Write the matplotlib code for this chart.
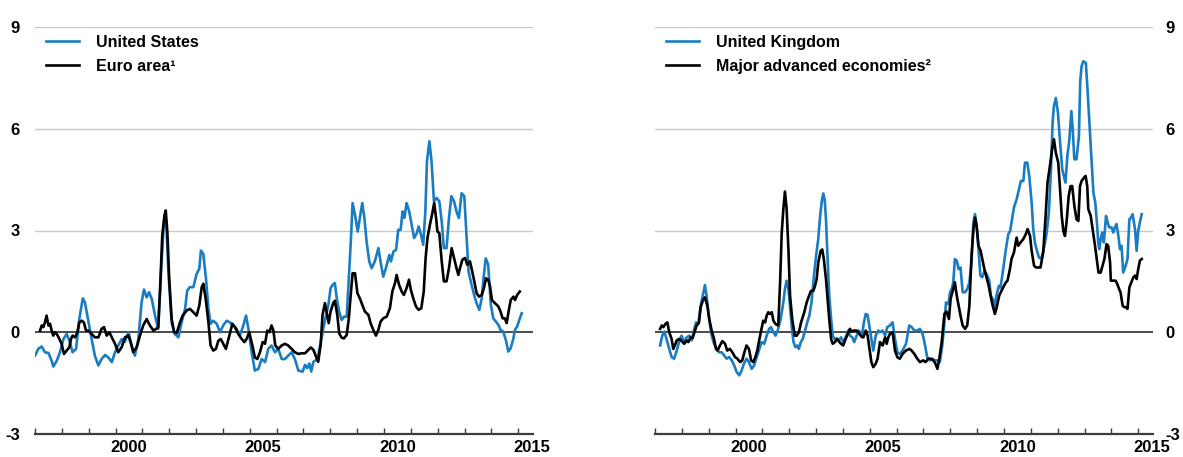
import matplotlib
matplotlib.use("Agg")
import matplotlib.pyplot as plt
import numpy as np

plt.rcParams['font.family'] = ['Liberation Sans', 'DejaVu Sans']

# ---- data (decimal year, value) ----
us_t = [1997.00, 1997.12, 1997.25, 1997.37, 1997.50, 1997.62, 1997.68, 1997.81, 1997.93, 1998.06,
        1998.18, 1998.30, 1998.40, 1998.53, 1998.65, 1998.78, 1998.86, 1998.95, 1999.11, 1999.23,
        1999.36, 1999.48, 1999.61, 1999.73, 1999.86, 1999.98, 2000.10, 2000.23, 2000.35, 2000.48,
        2000.60, 2000.72, 2000.85, 2000.97, 2001.06, 2001.16, 2001.25, 2001.35, 2001.47, 2001.59,
        2001.68, 2001.78, 2001.84, 2001.90, 2001.97, 2002.09, 2002.21, 2002.34, 2002.46, 2002.59,
        2002.67, 2002.77, 2002.90, 2003.02, 2003.12, 2003.18, 2003.27, 2003.37, 2003.46, 2003.54,
        2003.64, 2003.77, 2003.89, 2004.01, 2004.14, 2004.26, 2004.39, 2004.51, 2004.63, 2004.76,
        2004.86, 2004.95, 2005.07, 2005.19, 2005.32, 2005.44, 2005.57, 2005.69, 2005.81, 2005.94,
        2006.06, 2006.19, 2006.31, 2006.43, 2006.56, 2006.68, 2006.81, 2006.97, 2007.06, 2007.14,
        2007.22, 2007.29, 2007.37, 2007.47, 2007.55, 2007.64, 2007.74, 2007.83, 2007.93, 2008.01,
        2008.09, 2008.17, 2008.24, 2008.33, 2008.42, 2008.51, 2008.61, 2008.69, 2008.77, 2008.83,
        2008.92, 2009.02, 2009.10, 2009.19, 2009.27, 2009.35, 2009.45, 2009.54, 2009.66, 2009.79,
        2009.87, 2009.97, 2010.07, 2010.20, 2010.26, 2010.35, 2010.45, 2010.53, 2010.62, 2010.69,
        2010.76, 2010.84, 2010.94, 2011.03, 2011.12, 2011.22, 2011.29, 2011.38, 2011.46, 2011.54,
        2011.60, 2011.69, 2011.77, 2011.86, 2011.96, 2012.06, 2012.15, 2012.23, 2012.33, 2012.42,
        2012.51, 2012.61, 2012.70, 2012.79, 2012.89, 2012.99, 2013.08, 2013.15, 2013.26, 2013.39,
        2013.47, 2013.55, 2013.64, 2013.72, 2013.79, 2013.88, 2013.98, 2014.07, 2014.17, 2014.26,
        2014.34, 2014.44, 2014.54, 2014.63, 2014.72, 2014.82, 2014.88, 2014.96, 2015.06, 2015.13]
us_v = [-0.69, -0.49, -0.42, -0.59, -0.61, -0.84, -1.01, -0.84, -0.59, -0.20,
        -0.05, -0.29, -0.59, -0.49, 0.39, 1.00, 0.88, 0.49, -0.20, -0.69,
        -0.98, -0.79, -0.67, -0.74, -0.88, -0.59, -0.39, -0.20, -0.28, 0.00,
        -0.39, -0.69, -0.20, 0.88, 1.26, 1.03, 1.18, 0.98, 0.49, 0.10,
        1.57, 2.95, 3.44, 3.05, 1.77, 0.29, -0.05, -0.15, 0.29, 0.69,
        1.23, 1.33, 1.33, 1.72, 1.87, 2.41, 2.31, 1.57, 0.69, 0.25,
        0.34, 0.25, 0.00, 0.20, 0.34, 0.29, 0.20, 0.10, -0.10, 0.20,
        0.49, 0.10, -0.59, -1.13, -1.08, -0.79, -0.88, -0.49, -0.39, -0.59,
        -0.49, -0.79, -0.79, -0.69, -0.59, -0.79, -1.13, -1.16, -0.96, -1.06,
        -0.92, -1.16, -0.87, -0.82, -0.67, -0.32, 0.12, 0.46, 0.81, 1.30,
        1.40, 1.45, 1.00, 0.61, 0.36, 0.46, 0.46, 1.59, 2.78, 3.81,
        3.46, 2.97, 3.37, 3.81, 3.37, 2.68, 2.09, 1.89, 2.09, 2.48,
        2.09, 1.64, 1.89, 2.28, 2.09, 2.38, 2.43, 3.02, 3.02, 3.56,
        3.37, 3.81, 3.56, 3.17, 2.78, 2.92, 3.12, 2.87, 2.58, 3.56,
        5.04, 5.63, 5.04, 3.86, 3.96, 3.86, 3.27, 2.48, 2.48, 3.37,
        4.01, 3.86, 3.56, 3.37, 4.10, 4.01, 2.78, 1.79, 1.40, 1.00,
        0.81, 0.66, 1.00, 1.69, 2.18, 1.99, 0.81, 0.41, 0.31, 0.22,
        0.07, 0.02, -0.23, -0.57, -0.47, -0.18, 0.07, 0.17, 0.41, 0.56]

ea_t = [1997.19, 1997.25, 1997.31, 1997.37, 1997.43, 1997.50, 1997.56, 1997.62, 1997.68, 1997.74,
        1997.81, 1997.91, 1997.99, 1998.08, 1998.18, 1998.28, 1998.34, 1998.40, 1998.49, 1998.58,
        1998.65, 1998.74, 1998.82, 1998.90, 1998.99, 1999.11, 1999.23, 1999.36, 1999.48, 1999.57,
        1999.67, 1999.77, 1999.86, 1999.98, 2000.10, 2000.23, 2000.35, 2000.48, 2000.56, 2000.66,
        2000.79, 2000.91, 2001.03, 2001.16, 2001.28, 2001.41, 2001.51, 2001.59, 2001.66, 2001.74,
        2001.82, 2001.87, 2001.93, 2002.00, 2002.09, 2002.18, 2002.28, 2002.40, 2002.50, 2002.65,
        2002.77, 2002.90, 2003.02, 2003.12, 2003.21, 2003.27, 2003.36, 2003.46, 2003.54, 2003.64,
        2003.74, 2003.83, 2003.92, 2004.01, 2004.11, 2004.24, 2004.35, 2004.45, 2004.57, 2004.70,
        2004.80, 2004.88, 2004.98, 2005.11, 2005.19, 2005.28, 2005.38, 2005.48, 2005.57, 2005.65,
        2005.73, 2005.81, 2005.88, 2005.95, 2006.06, 2006.19, 2006.31, 2006.43, 2006.56, 2006.68,
        2006.81, 2006.93, 2007.06, 2007.18, 2007.28, 2007.37, 2007.47, 2007.55, 2007.64, 2007.71,
        2007.80, 2007.86, 2007.94, 2008.01, 2008.11, 2008.17, 2008.26, 2008.33, 2008.42, 2008.51,
        2008.61, 2008.69, 2008.76, 2008.83, 2008.92, 2009.01, 2009.10, 2009.19, 2009.29, 2009.42,
        2009.50, 2009.60, 2009.70, 2009.79, 2009.87, 2009.97, 2010.10, 2010.22, 2010.31, 2010.41,
        2010.47, 2010.56, 2010.66, 2010.74, 2010.84, 2010.93, 2011.00, 2011.09, 2011.19, 2011.29,
        2011.39, 2011.48, 2011.55, 2011.62, 2011.71, 2011.80, 2011.87, 2011.94, 2011.99, 2012.06,
        2012.15, 2012.23, 2012.33, 2012.42, 2012.52, 2012.61, 2012.70, 2012.77, 2012.83, 2012.92,
        2013.02, 2013.10, 2013.20, 2013.26, 2013.35, 2013.45, 2013.54, 2013.64, 2013.72, 2013.80,
        2013.88, 2013.95, 2014.02, 2014.13, 2014.26, 2014.34, 2014.42, 2014.50, 2014.57, 2014.64,
        2014.72, 2014.82, 2014.88, 2014.96, 2015.06]
ea_v = [0.05, 0.20, 0.15, 0.29, 0.49, 0.20, 0.25, 0.05, -0.10, 0.00,
        -0.05, -0.20, -0.34, -0.64, -0.54, -0.44, -0.20, -0.10, -0.15, 0.00,
        0.29, 0.34, 0.29, 0.05, 0.05, -0.05, -0.15, -0.15, 0.10, 0.15,
        -0.10, 0.00, -0.15, -0.34, -0.59, -0.44, -0.15, -0.10, -0.29, -0.59,
        -0.44, -0.10, 0.20, 0.39, 0.20, 0.05, 0.10, 0.15, 1.28, 2.85,
        3.44, 3.59, 2.95, 1.57, 0.39, 0.00, -0.02, 0.29, 0.49, 0.64,
        0.69, 0.59, 0.49, 0.79, 1.33, 1.43, 0.98, 0.29, -0.39, -0.54,
        -0.49, -0.25, -0.20, -0.34, -0.49, -0.10, 0.25, 0.15, -0.05, -0.20,
        -0.29, -0.20, 0.00, -0.44, -0.74, -0.79, -0.59, -0.29, -0.34, 0.05,
        0.00, 0.20, 0.05, -0.39, -0.49, -0.39, -0.34, -0.39, -0.49, -0.59,
        -0.64, -0.62, -0.62, -0.52, -0.45, -0.52, -0.72, -0.87, -0.37, 0.51,
        0.86, 0.61, 0.27, 0.61, 0.86, 0.93, 0.51, -0.03, -0.16, -0.18,
        -0.08, 0.41, 1.10, 1.74, 1.74, 1.15, 1.00, 0.81, 0.61, 0.51,
        0.27, 0.07, -0.10, 0.07, 0.31, 0.41, 0.46, 0.71, 1.20, 1.45,
        1.69, 1.40, 1.20, 1.10, 1.30, 1.55, 1.25, 1.00, 0.76, 0.66,
        0.71, 1.20, 2.19, 2.78, 3.17, 3.51, 3.81, 3.37, 2.97, 2.92,
        2.09, 1.50, 1.50, 1.89, 2.48, 2.19, 1.89, 1.69, 1.89, 2.14,
        2.19, 1.99, 2.09, 1.89, 1.55, 1.15, 1.05, 1.10, 1.30, 1.59,
        1.55, 1.35, 0.95, 0.86, 0.76, 0.61, 0.41, 0.41, 0.27, 0.61,
        0.95, 1.05, 0.95, 1.10, 1.20]

uk_t = [1997.19, 1997.27, 1997.35, 1997.43, 1997.53, 1997.62, 1997.71, 1997.81, 1997.91, 1997.99,
        1998.09, 1998.18, 1998.28, 1998.37, 1998.45, 1998.53, 1998.61, 1998.70, 1998.80, 1998.86,
        1998.92, 1998.99, 1999.05, 1999.11, 1999.20, 1999.30, 1999.38, 1999.48, 1999.57, 1999.67,
        1999.76, 1999.86, 1999.95, 2000.04, 2000.14, 2000.23, 2000.31, 2000.41, 2000.50, 2000.60,
        2000.69, 2000.79, 2000.89, 2000.97, 2001.07, 2001.16, 2001.25, 2001.32, 2001.41, 2001.49,
        2001.57, 2001.68, 2001.78, 2001.84, 2001.90, 2001.97, 2002.04, 2002.10, 2002.16, 2002.23,
        2002.30, 2002.36, 2002.43, 2002.50, 2002.59, 2002.67, 2002.75, 2002.83, 2002.92, 2003.00,
        2003.08, 2003.15, 2003.22, 2003.27, 2003.32, 2003.37, 2003.43, 2003.49, 2003.56, 2003.62,
        2003.69, 2003.77, 2003.85, 2003.93, 2004.01, 2004.10, 2004.20, 2004.26, 2004.35, 2004.42,
        2004.51, 2004.60, 2004.70, 2004.78, 2004.85, 2004.92, 2004.98, 2005.06, 2005.13, 2005.22,
        2005.32, 2005.38, 2005.48, 2005.57, 2005.65, 2005.75, 2005.85, 2005.94, 2006.03, 2006.12,
        2006.22, 2006.35, 2006.47, 2006.56, 2006.66, 2006.77, 2006.87, 2006.97, 2007.06, 2007.14,
        2007.24, 2007.34, 2007.43, 2007.52, 2007.61, 2007.70, 2007.78, 2007.84, 2007.93, 2007.99,
        2008.05, 2008.11, 2008.17, 2008.24, 2008.31, 2008.38, 2008.46, 2008.55, 2008.63, 2008.71,
        2008.79, 2008.86, 2008.92, 2008.98, 2009.05, 2009.12, 2009.19, 2009.27, 2009.35, 2009.45,
        2009.51, 2009.58, 2009.64, 2009.73, 2009.81, 2009.87, 2009.97, 2010.07, 2010.16, 2010.23,
        2010.28, 2010.37, 2010.47, 2010.56, 2010.63, 2010.72, 2010.78, 2010.87, 2010.94, 2011.03,
        2011.09, 2011.15, 2011.21, 2011.30, 2011.38, 2011.45, 2011.53, 2011.59, 2011.67, 2011.75,
        2011.81, 2011.86, 2011.93, 2012.01, 2012.08, 2012.17, 2012.23, 2012.29, 2012.36, 2012.43,
        2012.51, 2012.56, 2012.62, 2012.70, 2012.79, 2012.84, 2012.89, 2012.95, 2013.05, 2013.11,
        2013.18, 2013.24, 2013.33, 2013.40, 2013.47, 2013.51, 2013.55, 2013.60, 2013.66, 2013.72,
        2013.80, 2013.86, 2013.92, 2014.01, 2014.07, 2014.13, 2014.19, 2014.26, 2014.32, 2014.38,
        2014.44, 2014.53, 2014.60, 2014.67, 2014.73, 2014.79, 2014.88, 2014.94, 2015.00, 2015.06,
        2015.13]
uk_v = [-0.39, -0.10, 0.02, -0.20, -0.49, -0.73, -0.78, -0.54, -0.24, -0.10,
        -0.29, -0.15, -0.10, -0.24, 0.05, 0.29, 0.24, 0.78, 1.17, 1.39,
        1.08, 0.59, 0.20, -0.10, -0.34, -0.49, -0.59, -0.59, -0.68, -0.78,
        -0.73, -0.83, -0.98, -1.17, -1.27, -1.12, -0.93, -0.78, -0.88, -1.08,
        -0.98, -0.73, -0.49, -0.29, -0.34, -0.10, 0.10, 0.15, 0.00, -0.10,
        0.05, 0.39, 0.88, 1.27, 1.52, 1.27, 0.68, 0.10, -0.29, -0.44,
        -0.39, -0.49, -0.29, -0.20, 0.05, 0.29, 0.49, 0.88, 1.66, 2.25,
        2.74, 3.42, 3.91, 4.09, 3.91, 3.32, 2.15, 1.08, 0.39, -0.10,
        -0.20, -0.18, -0.24, -0.15, -0.29, -0.15, 0.05, -0.10, -0.15, -0.29,
        -0.10, 0.05, -0.15, 0.29, 0.54, 0.51, 0.20, -0.20, -0.54, -0.10,
        0.05, 0.00, 0.05, -0.10, 0.15, 0.20, 0.29, -0.20, -0.59, -0.64,
        -0.54, -0.34, 0.20, 0.15, 0.05, 0.05, 0.10, -0.05, -0.39, -0.74,
        -0.83, -0.78, -0.83, -0.83, -0.88, -0.39, 0.29, 0.88, 0.83, 1.18,
        1.27, 1.47, 2.16, 2.11, 1.86, 1.91, 1.18, 1.18, 1.27, 1.47,
        2.06, 3.24, 3.48, 3.14, 2.45, 1.67, 1.62, 1.81, 1.72, 1.52,
        1.08, 0.98, 0.74, 1.13, 1.37, 1.32, 1.86, 2.45, 2.89, 2.99,
        3.24, 3.68, 3.92, 4.22, 4.46, 4.46, 5.00, 5.00, 4.61, 3.82,
        3.04, 2.65, 2.45, 2.21, 2.16, 2.35, 2.65, 2.94, 3.53, 4.80,
        6.18, 6.67, 6.91, 6.47, 5.69, 4.80, 4.61, 4.41, 5.20, 5.64,
        6.52, 5.98, 5.10, 5.10, 5.78, 7.40, 7.84, 7.99, 7.94, 7.16,
        6.18, 5.29, 4.12, 3.82, 3.14, 2.65, 2.45, 2.75, 2.94, 2.65,
        3.43, 3.24, 3.09, 3.09, 2.94, 3.09, 3.19, 2.84, 2.45, 2.55,
        1.76, 1.96, 2.16, 3.33, 3.38, 3.48, 3.04, 2.40, 2.99, 3.24,
        3.48]

mae_t = [1997.19, 1997.25, 1997.31, 1997.38, 1997.46, 1997.53, 1997.62, 1997.68, 1997.74, 1997.81,
         1997.89, 1997.97, 1998.03, 1998.09, 1998.18, 1998.24, 1998.33, 1998.40, 1998.47, 1998.55,
         1998.64, 1998.70, 1998.78, 1998.86, 1998.95, 1999.02, 1999.11, 1999.20, 1999.27, 1999.33,
         1999.42, 1999.51, 1999.61, 1999.69, 1999.79, 1999.88, 1999.98, 2000.07, 2000.17, 2000.25,
         2000.33, 2000.41, 2000.50, 2000.58, 2000.66, 2000.74, 2000.81, 2000.89, 2000.97, 2001.03,
         2001.10, 2001.16, 2001.22, 2001.28, 2001.35, 2001.41, 2001.49, 2001.59, 2001.66, 2001.72,
         2001.78, 2001.84, 2001.90, 2001.97, 2002.03, 2002.11, 2002.21, 2002.28, 2002.36, 2002.44,
         2002.50, 2002.56, 2002.65, 2002.74, 2002.81, 2002.90, 2002.96, 2003.02, 2003.08, 2003.17,
         2003.23, 2003.29, 2003.37, 2003.43, 2003.49, 2003.56, 2003.62, 2003.70, 2003.79, 2003.87,
         2003.93, 2004.01, 2004.10, 2004.18, 2004.26, 2004.33, 2004.41, 2004.51, 2004.57, 2004.66,
         2004.76, 2004.85, 2004.92, 2004.98, 2005.06, 2005.13, 2005.22, 2005.29, 2005.38, 2005.48,
         2005.57, 2005.63, 2005.69, 2005.75, 2005.85, 2005.94, 2006.03, 2006.12, 2006.22, 2006.35,
         2006.47, 2006.56, 2006.66, 2006.77, 2006.87, 2006.99, 2007.08, 2007.18, 2007.27, 2007.37,
         2007.45, 2007.52, 2007.59, 2007.68, 2007.78, 2007.86, 2007.95, 2008.01, 2008.09, 2008.17,
         2008.24, 2008.31, 2008.38, 2008.46, 2008.55, 2008.63, 2008.71, 2008.79, 2008.86, 2008.92,
         2008.98, 2009.05, 2009.13, 2009.19, 2009.27, 2009.35, 2009.43, 2009.50, 2009.58, 2009.66,
         2009.73, 2009.82, 2009.91, 2010.00, 2010.07, 2010.13, 2010.22, 2010.28, 2010.37, 2010.47,
         2010.53, 2010.62, 2010.72, 2010.81, 2010.88, 2010.97, 2011.03, 2011.12, 2011.19, 2011.28,
         2011.36, 2011.46, 2011.55, 2011.62, 2011.71, 2011.79, 2011.86, 2011.93, 2012.02, 2012.08,
         2012.15, 2012.21, 2012.27, 2012.33, 2012.41, 2012.48, 2012.54, 2012.62, 2012.70, 2012.77,
         2012.83, 2012.89, 2012.98, 2013.04, 2013.10, 2013.14, 2013.23, 2013.30, 2013.39, 2013.47,
         2013.52, 2013.60, 2013.67, 2013.74, 2013.82, 2013.88, 2013.95, 2013.98, 2014.07, 2014.16,
         2014.22, 2014.29, 2014.34, 2014.42, 2014.48, 2014.54, 2014.60, 2014.67, 2014.74, 2014.82,
         2014.88, 2014.94, 2015.00, 2015.06, 2015.13]
mae_v = [0.10, 0.20, 0.15, 0.24, 0.29, 0.00, -0.20, -0.49, -0.39, -0.24,
         -0.20, -0.24, -0.29, -0.34, -0.24, -0.29, -0.15, -0.17, 0.00, 0.20,
         0.29, 0.73, 0.93, 1.03, 0.78, 0.39, 0.05, -0.20, -0.49, -0.54,
         -0.39, -0.26, -0.34, -0.54, -0.49, -0.59, -0.73, -0.78, -0.88, -0.83,
         -0.59, -0.39, -0.49, -0.83, -0.88, -0.73, -0.54, -0.20, 0.10, 0.34,
         0.29, 0.49, 0.59, 0.54, 0.59, 0.34, 0.24, 0.20, 1.47, 2.93,
         3.62, 4.15, 3.67, 2.44, 1.08, 0.39, -0.10, -0.10, 0.00, 0.29,
         0.44, 0.59, 0.88, 1.08, 1.22, 1.22, 1.37, 1.56, 2.05, 2.40,
         2.44, 2.15, 1.56, 0.98, 0.39, -0.20, -0.34, -0.29, -0.20, -0.29,
         -0.34, -0.39, -0.20, -0.05, 0.10, 0.02, 0.05, 0.05, 0.00, -0.10,
         -0.15, 0.05, -0.10, -0.44, -0.88, -1.03, -0.93, -0.78, -0.29, -0.39,
         -0.15, -0.34, -0.15, -0.05, 0.00, -0.54, -0.74, -0.78, -0.64, -0.54,
         -0.49, -0.54, -0.64, -0.78, -0.88, -0.83, -0.88, -0.78, -0.78, -0.83,
         -0.93, -1.08, -0.78, -0.29, 0.54, 0.61, 0.39, 0.98, 1.23, 1.47,
         1.08, 0.78, 0.49, 0.20, 0.10, 0.20, 0.78, 2.25, 3.04, 3.38,
         3.14, 2.55, 2.40, 2.16, 1.86, 1.62, 1.37, 1.08, 0.78, 0.54,
         0.74, 1.08, 1.23, 1.37, 1.47, 1.52, 1.86, 2.16, 2.35, 2.79,
         2.55, 2.65, 2.75, 2.89, 3.04, 2.84, 2.40, 1.96, 1.91, 1.91,
         1.91, 2.35, 3.43, 4.41, 4.90, 5.39, 5.69, 5.29, 5.00, 4.31,
         3.43, 2.99, 2.84, 3.24, 4.02, 4.31, 4.31, 3.73, 3.33, 3.28,
         4.31, 4.46, 4.56, 4.61, 4.31, 3.63, 3.43, 3.04, 2.55, 2.06,
         1.76, 1.76, 1.96, 2.16, 2.60, 2.55, 2.06, 1.52, 1.52, 1.52,
         1.42, 1.27, 1.18, 0.78, 0.74, 0.74, 0.69, 1.32, 1.47, 1.62,
         1.67, 1.57, 1.86, 2.11, 2.16]

labels_left = ['United States', 'Euro area\u00b9']
labels_right = ['United Kingdom', 'Major advanced economies\u00b2']
year_labels = [2000, 2005, 2010, 2015]
y_ticks = [-3, 0, 3, 6, 9]

BLUE = '#1a7cc2'
DARK = '#3c3c3c'
GRID = '#c8c8c8'

fig = plt.figure(figsize=(11.83, 4.57), dpi=100)
ax_l = fig.add_axes([35 / 1183, 23 / 457, 498 / 1183, 407 / 457])
ax_r = fig.add_axes([655 / 1183, 23 / 457, 498 / 1183, 407 / 457])


def style_axes(ax, side):
    ax.set_xlim(1997.0, 2015.55)
    ax.set_ylim(-3, 9)
    for s in ['top', 'left', 'right']:
        ax.spines[s].set_visible(False)
    ax.spines['bottom'].set_color(DARK)
    ax.spines['bottom'].set_linewidth(1.6)
    ax.set_yticks(y_ticks)
    ax.set_yticklabels([str(v) for v in y_ticks], fontsize=12, fontweight='bold')
    for v in y_ticks[2:]:
        ax.axhline(v, color=GRID, lw=1.0, zorder=0)
    ax.axhline(0, color=DARK, lw=1.3, zorder=1)
    if side == 'right':
        ax.yaxis.tick_right()
        ax.tick_params(axis='y', length=0, pad=9)
    else:
        ax.tick_params(axis='y', length=0, pad=11)
    # year boundaries as ticks, labels at mid-year
    ax.set_xticks(np.arange(1997, 2016))
    ax.set_xticklabels([])
    ax.set_xticks([y + 0.5 for y in year_labels], minor=True)
    ax.set_xticklabels([str(y) for y in year_labels], minor=True,
                       fontsize=12, fontweight='bold')
    ax.tick_params(axis='x', which='major', direction='in', length=4,
                   width=1.0, color=DARK)
    ax.tick_params(axis='x', which='minor', length=0, pad=4)


style_axes(ax_l, 'left')
style_axes(ax_r, 'right')

l1, = ax_l.plot(us_t, us_v, color=BLUE, lw=1.9, zorder=3)
l2, = ax_l.plot(ea_t, ea_v, color='black', lw=1.9, zorder=4)
r1, = ax_r.plot(uk_t, uk_v, color=BLUE, lw=1.9, zorder=3)
r2, = ax_r.plot(mae_t, mae_v, color='black', lw=1.9, zorder=4)

leg_kw = dict(loc='upper left', frameon=False, handlelength=2.1, handletextpad=1.05,
              labelspacing=0.58, borderpad=0, borderaxespad=0,
              prop={'size': 11.5, 'weight': 'bold'})
ax_l.legend([l1, l2], labels_left, bbox_to_anchor=(0.022, 0.981), **leg_kw)
ax_r.legend([r1, r2], labels_right, bbox_to_anchor=(0.022, 0.981), **leg_kw)

fig.savefig('out.png', dpi=100)
